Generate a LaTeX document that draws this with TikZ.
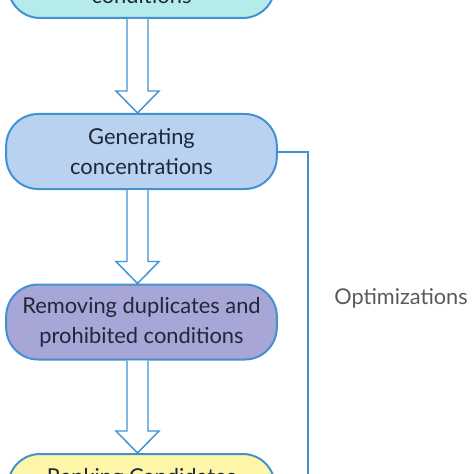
\documentclass[tikz,border=0pt]{standalone}
\usepackage{fontspec}
\setmainfont{Lato}
\usetikzlibrary{calc}
\definecolor{edgeblue}{RGB}{66,146,210}
\definecolor{cyanfill}{RGB}{181,236,234}
\definecolor{bluefill}{RGB}{184,210,240}
\definecolor{purplefill}{RGB}{168,166,214}
\definecolor{yellowfill}{RGB}{253,246,168}
\definecolor{inktext}{RGB}{30,40,58}
\definecolor{graytext}{RGB}{90,90,90}
\newcommand\flowarrow[2]{%
    \draw[flowarr] ($(#1.south)+(-14.5,0)$) -- ($(#2.north)+(-14.5,-22)$) -- ($(#2.north)+(-25.5,-22)$) -- ($(#2.north)+(-4,0)$) -- ($(#2.north)+(17.5,-22)$) -- ($(#2.north)+(6.5,-22)$) -- ($(#1.south)+(6.5,0)$) ;}
\begin{document}
\begin{tikzpicture}[x=0.75pt,y=0.75pt,yscale=-1,xscale=1,
    proc/.style={draw=edgeblue,line width=1.5pt,rounded corners=24pt,minimum width=203pt,minimum height=56.25pt,align=center,text=inktext,font=\fontsize{16.4}{22.5}\selectfont},
    flowarr/.style={draw=edgeblue,line width=1.1pt,fill=white}]
    \useasboundingbox (0,0) rectangle (474,474);
    \clip (0,0) rectangle (474,474);
    % Process Nodes
    \node[proc,fill=cyanfill,minimum width=200pt] (init) at (141.5,-19.5) {\phantom{x}\\[4pt]conditions};
    \node[proc,fill=bluefill] (gen) at (141.5,151.5) {Generating\\concentrations};
    \node[proc,fill=purplefill] (remove) at (141.5,322) {Removing duplicates and\\prohibited conditions};
    \node[proc,fill=yellowfill,minimum width=200pt] (rank) at (141.5,491.5) {Ranking Candidates\\\phantom{x}};
    % Block Arrows
    \flowarrow{init}{gen}
    \flowarrow{gen}{remove}
    \flowarrow{remove}{rank}
    % Loop Line
    \coordinate (loopend) at (308,490);
    \draw[draw=edgeblue,line width=1.5pt] (gen.east) -| (loopend);
    % Text Node
    \node[text=graytext,font=\fontsize{16.3}{19}\selectfont] (opt) at (401,298) {Optimizations};
\end{tikzpicture}
\end{document}
